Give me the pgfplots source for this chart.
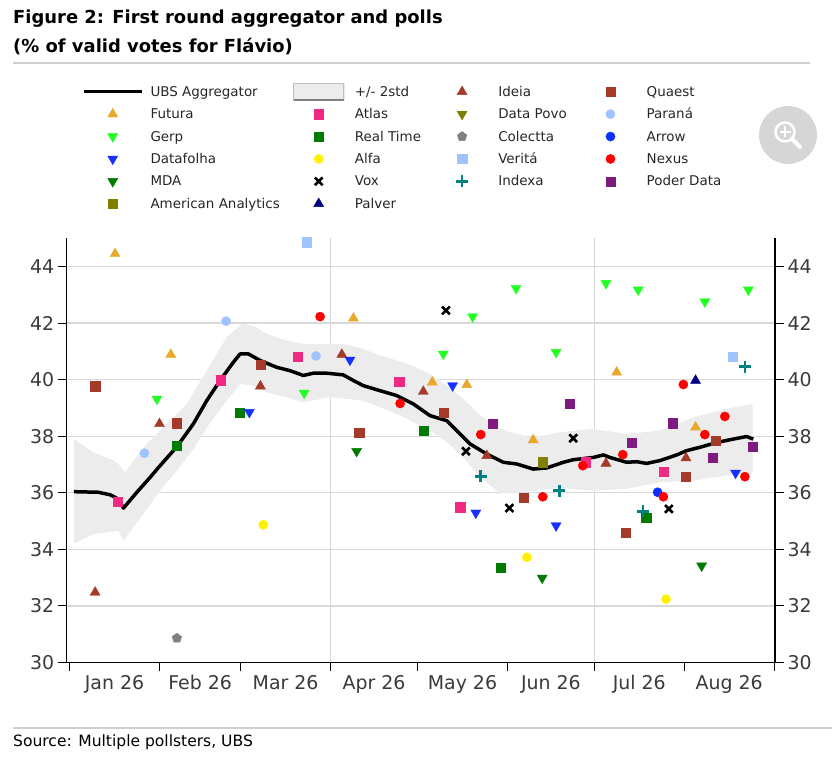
\documentclass[border=0pt]{standalone}
\usepackage{fontspec}
\setmainfont{DejaVu Sans}
\usepackage{pgfplots}
\pgfplotsset{compat=1.18}
\definecolor{ideia}{HTML}{A33A2A}
\definecolor{quaest}{HTML}{A33A2A}
\definecolor{futura}{HTML}{E9A82B}
\definecolor{atlas}{HTML}{F02A80}
\definecolor{datapovo}{HTML}{808000}
\definecolor{parana}{HTML}{9EC3FF}
\definecolor{gerp}{HTML}{22FF22}
\definecolor{realtime}{HTML}{007A00}
\definecolor{colectta}{HTML}{808080}
\definecolor{arrow}{HTML}{0A30FF}
\definecolor{datafolha}{HTML}{1530FF}
\definecolor{alfa}{HTML}{FFF200}
\definecolor{verita}{HTML}{9EC3FF}
\definecolor{nexus}{HTML}{FF0000}
\definecolor{mda}{HTML}{007A00}
\definecolor{indexa}{HTML}{008080}
\definecolor{poder}{HTML}{801A80}
\definecolor{amanalytics}{HTML}{808000}
\definecolor{palver}{HTML}{00007F}
\definecolor{bandfill}{HTML}{ECECEC}
\definecolor{gridgray}{HTML}{D9D9D9}
\definecolor{rulegray}{HTML}{D0D0D0}
\definecolor{labelgray}{HTML}{3A3A3A}
\definecolor{legtext}{HTML}{262626}
\definecolor{icongray}{HTML}{D6D6D6}
\begin{document}
\begin{tikzpicture}
\useasboundingbox (0bp,0bp) rectangle (838bp,773bp);
% titles
\node[anchor=base west, inner sep=0pt, text=black] at (13bp,749.7bp) {\fontsize{18}{20}\selectfont\bfseries Figure 2: First round aggregator and polls};
\node[anchor=base west, inner sep=0pt, text=black] at (13bp,720.3bp) {\fontsize{18}{20}\selectfont\bfseries (\% of valid votes for Flávio)};
\draw[rulegray, line width=2bp] (13bp,709.7bp) -- (810bp,709.7bp);
\draw[rulegray, line width=2bp] (13bp,44.7bp) -- (832bp,44.7bp);
\node[anchor=base west, inner sep=0pt, text=black] at (13bp,26.3bp) {\fontsize{15.6}{18}\selectfont Source: Multiple pollsters, UBS};
% zoom icon
\fill[icongray] (788bp,638bp) circle (29bp);
\draw[white, line width=2.5bp] (785bp,641bp) circle (9.5bp);
\draw[white, line width=4bp, line cap=round] (792bp,634bp) -- (800bp,626bp);
\draw[white, line width=1.8bp] (779.5bp,641bp) -- (790.5bp,641bp) (785bp,635.5bp) -- (785bp,646.5bp);

\begin{axis}[
  at={(66.7bp,110.5bp)}, anchor=south west, scale only axis,
  width=708.3bp, height=424.2bp,
  xmin=-1, xmax=243.3, ymin=30, ymax=45,
  clip=false,
  axis x line*=bottom, axis y line*=left,
  axis line style={black, line width=1.2bp},
  xtick={0,31,59,90,120,151,181,212,243},
  xticklabels={Jan 26,Feb 26,Mar 26,Apr 26,May 26,Jun 26,Jul 26,Aug 26},
  x tick label as interval,
  ytick={30,32,...,44},
  tick align=outside, major tick length=9bp,
  tick style={draw=black, line width=1bp},
  ymajorgrids, grid style={draw=gridgray, line width=1.3bp},
  extra x ticks={90,181}, extra x tick labels={},
  extra x tick style={grid=major, tick style={draw=none}},
  tick label style={font=\fontsize{19}{19}\selectfont, text=labelgray},
  /pgf/number format/assume math mode=true,
  legend columns=4,
  legend style={at={(axis description cs:0.0216,1.3661)}, anchor=north west,
    draw=none, fill=none, inner sep=0pt, outer sep=0pt, row sep=3.4bp,
    font=\fontsize{13.5}{16}\selectfont, text=legtext,
    /tikz/every odd column/.style={column sep=7bp},
    /tikz/every even column/.style={column sep=0bp},
    cells={anchor=base west},
    nodes={inner sep=0pt, text height=13bp, text depth=6bp}},
  legend image code/.code={
    \path (0bp,-2bp) (58bp,11bp);
    \draw[mark repeat=2,mark phase=2,#1] plot coordinates {(0bp,4.5bp) (29bp,4.5bp) (58bp,4.5bp)};},
]
% band +/- 2std
\addplot[draw=none, fill=bandfill, forget plot] coordinates {
(1.5,37.9) (8.2,37.43) (15,37.15) (16.8,37.02) (19,36.72) (22.5,37.2) (26.6,37.73) (31.2,38.2)
(40.4,39.14) (47.3,40.32) (54.2,41.5) (59.4,41.97) (63.4,41.91) (68,41.62) (74.9,41.38) (80.6,41.27)
(89.8,41.27) (95,41.25) (101.3,41.09) (106,40.9) (112.8,40.68) (118,40.5) (124.3,40.2) (130,39.8)
(135.8,39.32) (141,38.8) (147.3,38.32) (152,38.15) (158.8,37.96) (165,38.05) (169,38.14) (180.6,38.26)
(192.1,38.08) (203.6,38.2) (215,38.67) (226.6,38.97) (235.6,39.14)
(235.6,36.67) (226.6,36.61) (215,36.43) (203.6,36.37) (192.1,36.14) (180.6,36.08) (169,36.17)
(155.3,36.02) (149.6,35.97) (147.3,36.08) (141,36.6) (135.8,37.25) (130,37.8) (124.3,38.2)
(112.8,38.79) (101.3,39.26) (89.8,39.38) (80.6,39.2) (74.9,39.38) (68,39.55) (63.4,39.79)
(58.8,39.85) (54.2,39.26) (47.3,38.3) (42.7,37.55) (37,36.78) (31.2,36.08) (25.4,35.25)
(18.6,34.31) (16.8,34.66) (8.2,34.54) (1.5,34.21)
} -- cycle;
% UBS aggregator
\addplot[black, line width=3.5bp, line join=round] coordinates {
(1.5,36.04) (9.9,36.02) (14.0,35.93) (16.8,35.78) (18.6,35.46) (23.2,36.02) (27.8,36.55) (31.2,36.96)
(37.0,37.63) (42.7,38.44) (47.3,39.26) (51.9,39.97) (56.5,40.62) (58.8,40.91) (61.7,40.91) (65.7,40.68)
(71.4,40.44) (76.0,40.32) (80.6,40.15) (84.1,40.23) (88.7,40.23) (94.4,40.17) (97.9,39.97) (101.3,39.79)
(107.1,39.61) (112.8,39.44) (118.6,39.14) (124.3,38.73) (130.1,38.55) (133.5,38.2) (138.1,37.73)
(143.9,37.37) (149.6,37.08) (154.2,37.02) (159.9,36.84) (164.6,36.88) (170.3,37.08) (173.7,37.17)
(180.6,37.25) (184.1,37.34) (186.4,37.25) (192.1,37.08) (195.6,37.1) (199.0,37.04) (203.6,37.14)
(209.4,37.34) (212.8,37.49) (217.4,37.61) (223.2,37.78) (228.9,37.9) (233.5,37.99) (235.8,37.9)
};
\addlegendentry{\makebox[139bp][l]{UBS Aggregator}}
\addlegendimage{legend image code/.code={
  \path (0bp,-2bp) (58bp,11bp);
  \fill[bandfill] (4bp,-4bp) rectangle (54bp,13bp);
  \draw[gray!50, line width=0.5bp] (4bp,-4bp) rectangle (54bp,13bp);
  \draw[gray, line width=1.5bp] (4bp,-4bp) -- (54bp,-4bp);}}
\addlegendentry{\makebox[78bp][l]{+/- 2std}}
% Ideia
\addplot[only marks, mark=triangle*, mark size=5.8bp, color=ideia] coordinates {
(8.8,32.48) (31.0,38.44) (65.8,39.77) (93.9,40.89) (122.0,39.58) (143.9,37.31) (185.0,37.04) (212.6,37.23)};
\addlegendentry{\makebox[83bp][l]{Ideia}}
% Quaest
\addplot[only marks, mark=square*, mark size=4.6bp, color=quaest] coordinates {
(8.8,39.77) (37.0,38.46) (65.8,40.53) (99.9,38.12) (128.9,38.83) (156.7,35.82) (191.9,34.6) (212.6,36.57) (222.9,37.84)};
\addlegendentry{\makebox[110bp][l]{Quaest}}
% Futura
\addplot[only marks, mark=triangle*, mark size=5.8bp, color=futura] coordinates {
(15.7,44.45) (34.9,40.89) (97.9,42.17) (125.1,39.91) (137.0,39.82) (159.9,37.87) (188.7,40.26) (215.9,38.32)};
\addlegendentry{\makebox[139bp][l]{Futura}}
% Atlas
\addplot[only marks, mark=square*, mark size=4.6bp, color=atlas] coordinates {
(16.6,35.69) (52.0,39.98) (78.6,40.82) (113.7,39.93) (134.7,35.49) (178.1,37.08) (204.8,36.75)};
\addlegendentry{\makebox[78bp][l]{Atlas}}
% Data Povo (no points)
\addlegendimage{only marks, mark=triangle*, mark size=5.8bp, mark options={rotate=180}, color=datapovo}
\addlegendentry{\makebox[83bp][l]{Data Povo}}
% Parana
\addplot[only marks, mark=*, mark size=4.6bp, color=parana] coordinates {
(25.8,37.40) (54.0,42.07) (85.0,40.84)};
\addlegendentry{\makebox[110bp][l]{Paraná}}
% Gerp
\addplot[only marks, mark=triangle*, mark size=5.8bp, mark options={rotate=180}, color=gerp] coordinates {
(30.1,39.32) (80.9,39.53) (128.9,40.91) (139.0,42.23) (154.0,43.23) (167.8,40.97) (185.0,43.41) (196.1,43.18) (219.1,42.76) (234.1,43.18)};
\addlegendentry{\makebox[139bp][l]{Gerp}}
% Real Time
\addplot[only marks, mark=square*, mark size=4.6bp, color=realtime] coordinates {
(37.0,37.67) (58.8,38.83) (122.0,38.2) (148.7,33.34) (198.9,35.11)};
\addlegendentry{\makebox[78bp][l]{Real Time}}
% Colectta
\addplot[only marks, mark=pentagon*, mark size=5bp, color=colectta] coordinates {
(37.0,30.86)};
\addlegendentry{\makebox[83bp][l]{Colectta}}
% Arrow
\addplot[only marks, mark=*, mark size=4.6bp, color=arrow] coordinates {
(202.8,36.02)};
\addlegendentry{\makebox[110bp][l]{Arrow}}
% Datafolha
\addplot[only marks, mark=triangle*, mark size=5.8bp, mark options={rotate=180}, color=datafolha] coordinates {
(62.0,38.85) (96.7,40.7) (132.1,39.79) (140.1,35.29) (167.8,34.84) (229.7,36.7)};
\addlegendentry{\makebox[139bp][l]{Datafolha}}
% Alfa
\addplot[only marks, mark=*, mark size=4.6bp, color=alfa] coordinates {
(66.8,34.87) (157.7,33.72) (205.7,32.24)};
\addlegendentry{\makebox[78bp][l]{Alfa}}
% Verita
\addplot[only marks, mark=square*, mark size=4.6bp, color=verita] coordinates {
(81.8,44.86) (228.6,40.82)};
\addlegendentry{\makebox[83bp][l]{Veritá}}
% Nexus
\addplot[only marks, mark=*, mark size=4.6bp, color=nexus] coordinates {
(86.4,42.23) (114.0,39.16) (141.8,38.06) (163.2,35.86) (177.0,36.96) (190.8,37.35) (204.8,35.86) (211.7,39.83) (219.1,38.06) (226.0,38.7) (232.9,36.57)};
\addlegendentry{\makebox[110bp][l]{Nexus}}
% MDA
\addplot[only marks, mark=triangle*, mark size=5.8bp, mark options={rotate=180}, color=mda] coordinates {
(99.0,37.47) (163.0,32.99) (218.0,33.42)};
\addlegendentry{\makebox[139bp][l]{MDA}}
% Vox
\addplot[only marks, mark=x, mark size=5.5bp, mark options={line width=2.6bp}, color=black] coordinates {
(129.8,42.45) (136.7,37.47) (151.7,35.46) (173.7,37.93) (206.7,35.43)};
\addlegendentry{\makebox[78bp][l]{Vox}}
% Indexa
\addplot[only marks, mark=+, mark size=6bp, mark options={line width=2.6bp}, color=indexa] coordinates {
(141.8,36.58) (168.9,36.08) (197.7,35.34) (232.9,40.46)};
\addlegendentry{\makebox[83bp][l]{Indexa}}
% Poder Data
\addplot[only marks, mark=square*, mark size=4.6bp, color=poder] coordinates {
(145.9,38.44) (172.6,39.16) (193.9,37.78) (208.0,38.46) (221.8,37.23) (235.6,37.63)};
\addlegendentry{\makebox[110bp][l]{Poder Data}}
% American Analytics
\addplot[only marks, mark=square*, mark size=4.6bp, color=amanalytics] coordinates {
(163.2,37.08)};
\addlegendentry{\makebox[139bp][l]{American Analytics}}
% Palver
\addplot[only marks, mark=triangle*, mark size=5.8bp, color=palver] coordinates {
(215.9,39.97)};
\addlegendentry{\makebox[78bp][l]{Palver}}
\end{axis}

\begin{axis}[
  at={(66.7bp,110.5bp)}, anchor=south west, scale only axis,
  width=708.3bp, height=424.2bp,
  xmin=-1, xmax=243.3, ymin=30, ymax=45,
  axis x line=none, axis y line*=right,
  axis line style={black, line width=1.2bp},
  ytick={30,32,...,44},
  tick align=outside, major tick length=9bp,
  tick style={draw=black, line width=1bp},
  tick label style={font=\fontsize{19}{19}\selectfont, text=labelgray},
  /pgf/number format/assume math mode=true,
]
\addplot[draw=none, forget plot] coordinates {(0,30) (243,45)};
\end{axis}
\end{tikzpicture}
\end{document}
